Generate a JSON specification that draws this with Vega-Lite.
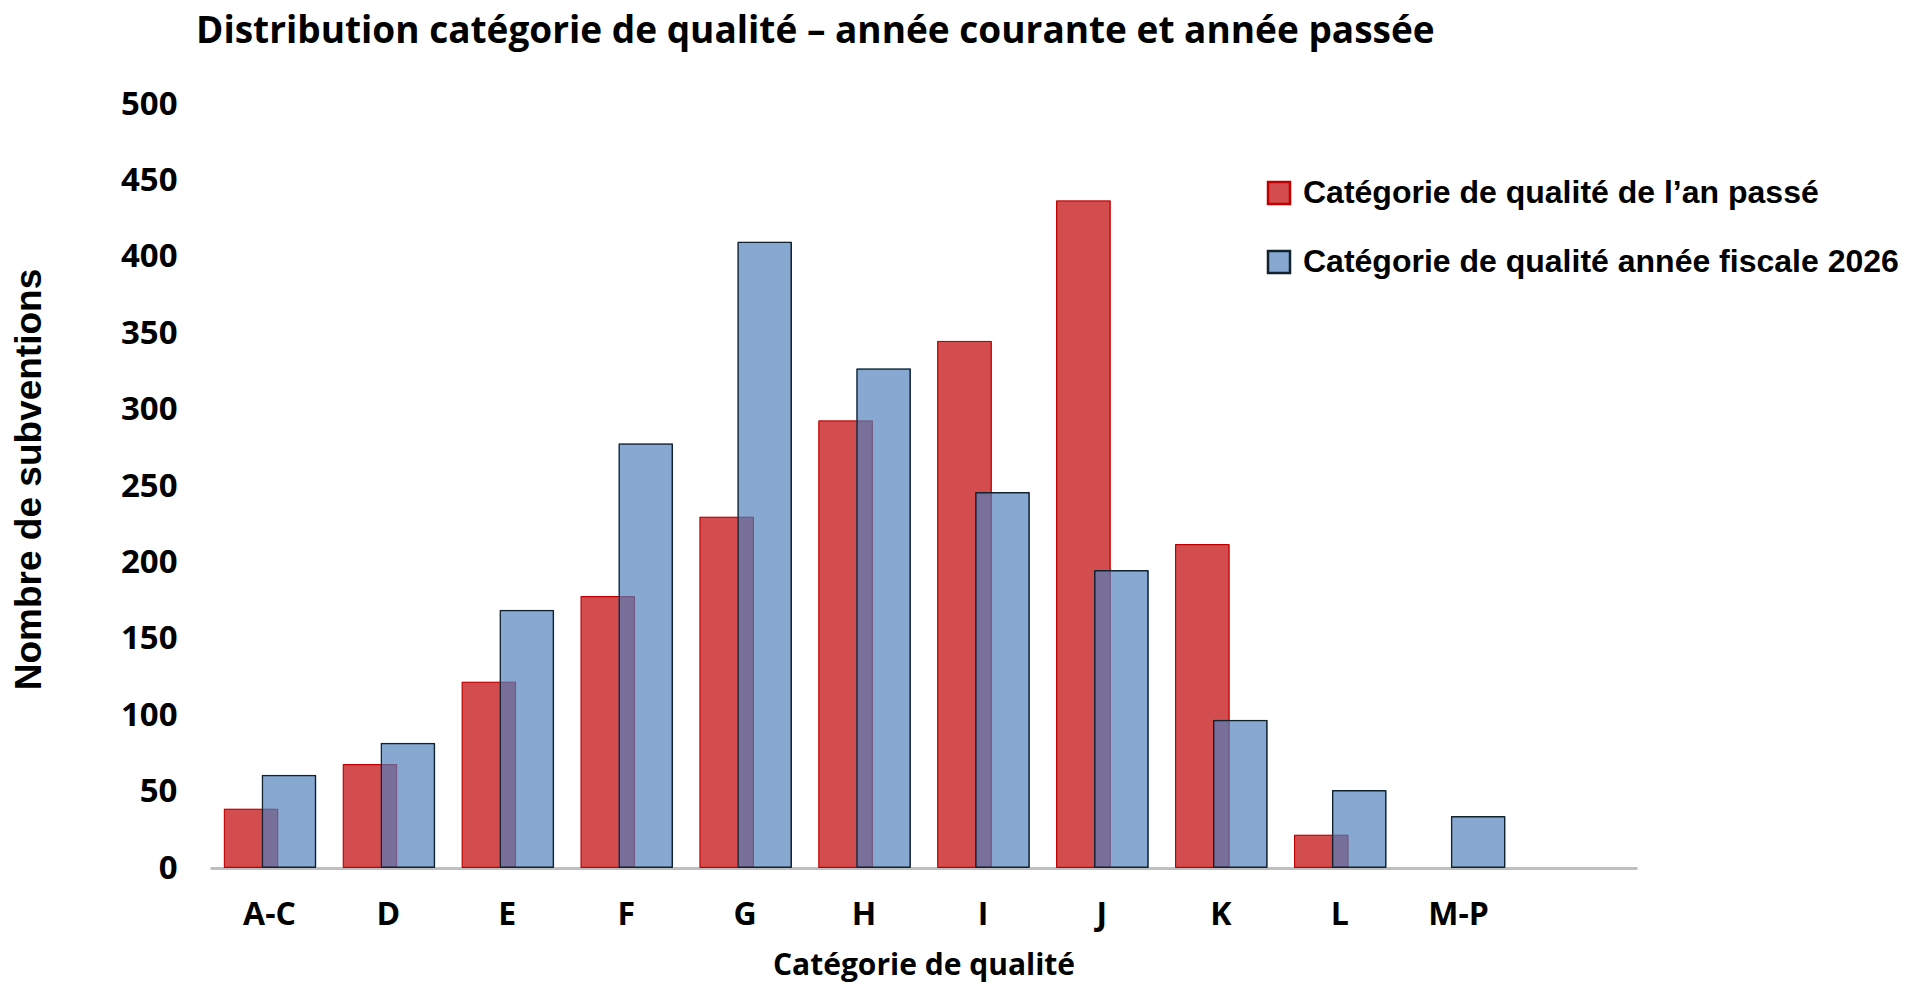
{
  "$schema": "https://vega.github.io/schema/vega-lite/v6.json",
  "autosize": "none",
  "width": 1427,
  "height": 764,
  "padding": {"left": 210, "top": 104, "right": 279, "bottom": 117},
  "background": "white",
  "title": {
    "text": "Distribution catégorie de qualité – année courante et année passée",
    "anchor": "start",
    "frame": "group",
    "dx": -14,
    "offset": 37,
    "font": "Open Sans",
    "fontWeight": "bold",
    "fontSize": 37,
    "color": "#000000"
  },
  "data": {
    "values": [
      {"cat": "A-C", "serie": "Catégorie de qualité de l’an passé", "n": 39},
      {"cat": "D", "serie": "Catégorie de qualité de l’an passé", "n": 68},
      {"cat": "E", "serie": "Catégorie de qualité de l’an passé", "n": 122},
      {"cat": "F", "serie": "Catégorie de qualité de l’an passé", "n": 178},
      {"cat": "G", "serie": "Catégorie de qualité de l’an passé", "n": 230},
      {"cat": "H", "serie": "Catégorie de qualité de l’an passé", "n": 293},
      {"cat": "I", "serie": "Catégorie de qualité de l’an passé", "n": 345},
      {"cat": "J", "serie": "Catégorie de qualité de l’an passé", "n": 437},
      {"cat": "K", "serie": "Catégorie de qualité de l’an passé", "n": 212},
      {"cat": "L", "serie": "Catégorie de qualité de l’an passé", "n": 22},
      {"cat": "A-C", "serie": "Catégorie de qualité année fiscale 2026", "n": 61},
      {"cat": "D", "serie": "Catégorie de qualité année fiscale 2026", "n": 82},
      {"cat": "E", "serie": "Catégorie de qualité année fiscale 2026", "n": 169},
      {"cat": "F", "serie": "Catégorie de qualité année fiscale 2026", "n": 278},
      {"cat": "G", "serie": "Catégorie de qualité année fiscale 2026", "n": 410},
      {"cat": "H", "serie": "Catégorie de qualité année fiscale 2026", "n": 327},
      {"cat": "I", "serie": "Catégorie de qualité année fiscale 2026", "n": 246},
      {"cat": "J", "serie": "Catégorie de qualité année fiscale 2026", "n": 195},
      {"cat": "K", "serie": "Catégorie de qualité année fiscale 2026", "n": 97},
      {"cat": "L", "serie": "Catégorie de qualité année fiscale 2026", "n": 51},
      {"cat": "M-P", "serie": "Catégorie de qualité année fiscale 2026", "n": 34}
    ]
  },
  "encoding": {
    "x": {
      "field": "cat",
      "type": "nominal",
      "sort": null,
      "scale": {"domain": ["A-C", "D", "E", "F", "G", "H", "I", "J", "K", "L", "M-P", "_"], "paddingInner": 0, "paddingOuter": 0},
      "axis": {
        "title": "Catégorie de qualité",
        "titleFont": "Open Sans",
        "titleFontWeight": "bold",
        "titleFontSize": 30,
        "titleColor": "#000000",
        "titleY": 97,
        "titleBaseline": "middle",
        "labelExpr": "datum.value == '_' ? '' : datum.value",
        "labelAngle": 0,
        "labelFont": "Open Sans",
        "labelFontWeight": "bold",
        "labelFontSize": 32,
        "labelColor": "#000000",
        "labelPadding": 31,
        "ticks": false,
        "domainColor": "#BFBFBF",
        "domainWidth": 3,
        "grid": false
      }
    },
    "y": {
      "field": "n",
      "type": "quantitative",
      "scale": {"domain": [0, 500], "nice": false},
      "axis": {
        "title": "Nombre de subventions",
        "titleFont": "Liberation Sans",
        "titleFontWeight": "bold",
        "titleFontSize": 37,
        "titleColor": "#000000",
        "titleAngle": -90,
        "titleX": -181,
        "titleY": 375,
        "titleAlign": "center",
        "titleBaseline": "middle",
        "values": [0, 50, 100, 150, 200, 250, 300, 350, 400, 450, 500],
        "labelFont": "Open Sans",
        "labelFontWeight": "bold",
        "labelFontSize": 33,
        "labelColor": "#000000",
        "labelPadding": 33,
        "ticks": false,
        "domain": false,
        "grid": false
      }
    },
    "color": {
      "field": "serie",
      "type": "nominal",
      "scale": {"domain": ["Catégorie de qualité de l’an passé", "Catégorie de qualité année fiscale 2026"], "range": ["#D34C4E", "#4F81BD"]},
      "legend": {
        "title": null,
        "orient": "none",
        "legendX": 1053,
        "legendY": 73,
        "symbolType": "square",
        "symbolSize": 484,
        "symbolStrokeWidth": 2.5,
        "labelFont": "Liberation Sans",
        "labelFontWeight": "bold",
        "labelFontSize": 32,
        "labelColor": "#000000",
        "labelOffset": 8,
        "labelLimit": 800,
        "rowPadding": 37,
        "encode": {
          "symbols": {
            "update": {
              "fillOpacity": {"signal": "datum.value == 'Catégorie de qualité année fiscale 2026' ? 0.69 : 1"}
            }
          }
        }
      }
    },
    "stroke": {
      "field": "serie",
      "type": "nominal",
      "scale": {"domain": ["Catégorie de qualité de l’an passé", "Catégorie de qualité année fiscale 2026"], "range": ["#C00000", "#12222F"]},
      "legend": {
        "title": null,
        "orient": "none",
        "legendX": 1053,
        "legendY": 73,
        "symbolType": "square",
        "symbolSize": 484,
        "symbolStrokeWidth": 2.5,
        "labelFont": "Liberation Sans",
        "labelFontWeight": "bold",
        "labelFontSize": 32,
        "labelColor": "#000000",
        "labelOffset": 8,
        "labelLimit": 800,
        "rowPadding": 37
      }
    },
    "fillOpacity": {
      "field": "serie",
      "type": "nominal",
      "scale": {"domain": ["Catégorie de qualité de l’an passé", "Catégorie de qualité année fiscale 2026"], "range": [1, 0.69]},
      "legend": null
    }
  },
  "layer": [
    {
      "transform": [{"filter": "datum.serie == 'Catégorie de qualité de l’an passé'"}],
      "mark": {"type": "bar", "width": {"band": 0.46}, "xOffset": -18.5, "strokeWidth": 2.5, "cornerRadius": 1}
    },
    {
      "transform": [{"filter": "datum.serie == 'Catégorie de qualité année fiscale 2026'"}],
      "mark": {"type": "bar", "width": {"band": 0.46}, "xOffset": 19.5, "strokeWidth": 3, "cornerRadius": 1}
    }
  ],
  "config": {"view": {"stroke": null}}
}
